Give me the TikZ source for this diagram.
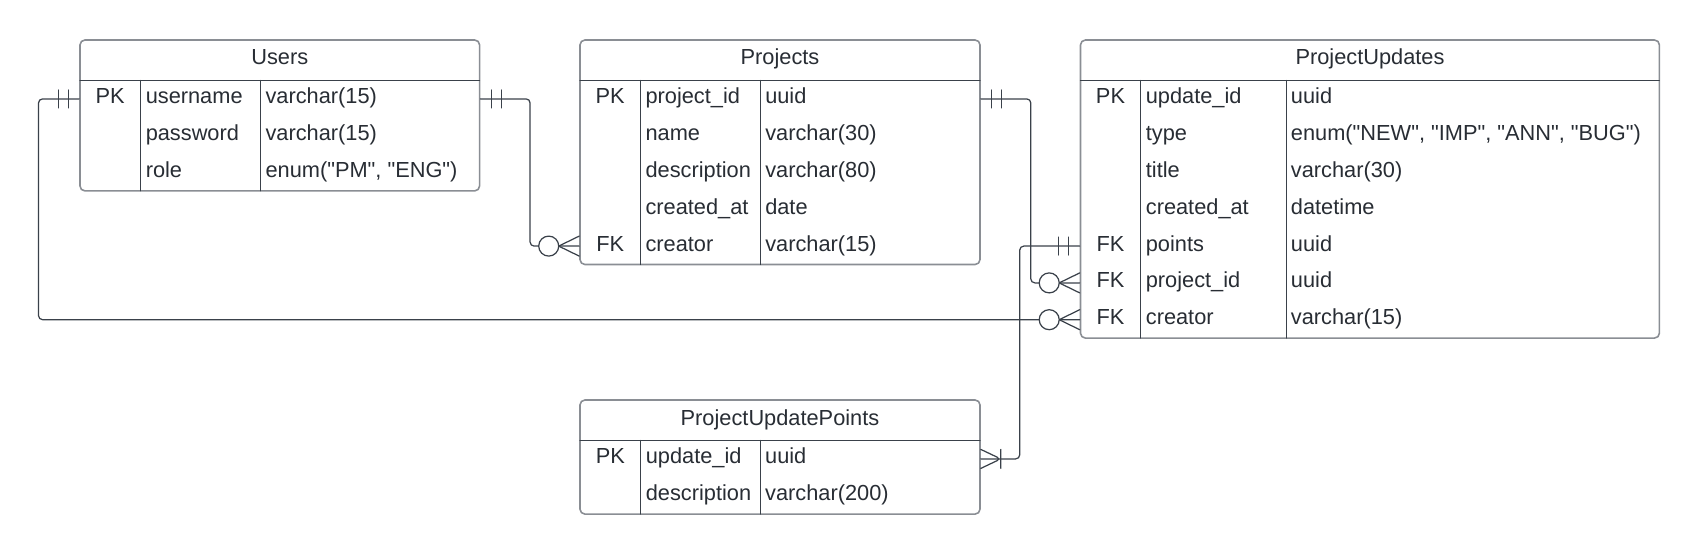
\documentclass[tikz,border=0pt]{standalone}
\usepackage{fontspec}
\setmainfont{Liberation Sans}
\usetikzlibrary{fit}
\definecolor{erink}{RGB}{40,45,52}
\definecolor{erline}{RGB}{58,65,74}
\definecolor{erframe}{RGB}{138,142,148}
\newcommand{\qq}[1]{\textquotedbl#1\textquotedbl}

\tikzset{
  tbl/.style={draw=erframe,line width=0.9pt,rounded corners=2.8pt,fill=white,inner sep=0pt},
  gridline/.style={draw=erline,line width=0.65pt},
  tbltitle/.style={anchor=base,inner sep=0pt,text=erink},
  keytxt/.style={anchor=base,inner sep=0pt,text=erink},
  fldtxt/.style={anchor=base west,inner sep=0pt,text=erink},
  rel/.style={draw=erline,line width=0.7pt,rounded corners=2.3pt},
}

\begin{document}
\begin{tikzpicture}[x=0.02cm,y=-0.02cm,font=\fontsize{12.4}{14}\selectfont,line cap=round,line join=round]
\useasboundingbox (0,0) rectangle (1701,554);
% Users
\node[tbl,fit={(80,40) (479.6,190.9)}] (users) {};
\draw[gridline] (80,80.5) -- (479.6,80.5) (140.4,80.5) -- (140.4,190.9) (260.7,80.5) -- (260.7,190.9);
\node[tbltitle] (users-title) at (279.8,65) {Users};
\foreach \k/\f/\t [count=\i] in {PK/username/varchar(15), {}/password/varchar(15), {}/role/{enum(\qq{PM}, \qq{ENG})}} {
  \coordinate (u\i) at (80,62.1+36.8*\i);
  \node[keytxt] (u\i-key) at (110.2,67.1+36.8*\i) {\k};
  \node[fldtxt] (u\i-name) at (145.4,67.1+36.8*\i) {\f};
  \node[fldtxt] (u\i-type) at (265.2,67.1+36.8*\i) {\t};
}
% Projects
\node[tbl,fit={(580,40) (980,264.5)}] (prj) {};
\draw[gridline] (580,80.5) -- (980,80.5) (640.4,80.5) -- (640.4,264.5) (760.4,80.5) -- (760.4,264.5);
\node[tbltitle] (prj-title) at (780,65) {Projects};
\foreach \k/\f/\t [count=\i] in {PK/project\_id/uuid, {}/name/varchar(30), {}/description/varchar(80), {}/created\_at/date, FK/creator/varchar(15)} {
  \coordinate (p\i) at (580,62.1+36.8*\i);
  \node[keytxt] (p\i-key) at (610.2,67.1+36.8*\i) {\k};
  \node[fldtxt] (p\i-name) at (645.2,67.1+36.8*\i) {\f};
  \node[fldtxt] (p\i-type) at (764.9,67.1+36.8*\i) {\t};
}
% ProjectUpdates
\node[tbl,fit={(1080.5,40) (1659.4,338.1)}] (pu) {};
\draw[gridline] (1080.5,80.5) -- (1659.4,80.5) (1140.5,80.5) -- (1140.5,338.1) (1286.1,80.5) -- (1286.1,338.1);
\node[tbltitle] (pu-title) at (1370,65) {ProjectUpdates};
\foreach \k/\f/\t [count=\i] in {PK/update\_id/uuid, {}/type/{enum(\qq{NEW}, \qq{IMP}, \qq{ANN}, \qq{BUG})}, {}/title/varchar(30), {}/created\_at/datetime, FK/points/uuid, FK/project\_id/uuid, FK/creator/varchar(15)} {
  \coordinate (pu\i) at (1080.5,62.1+36.8*\i);
  \node[keytxt] (pu\i-key) at (1110.5,67.1+36.8*\i) {\k};
  \node[fldtxt] (pu\i-name) at (1145.5,67.1+36.8*\i) {\f};
  \node[fldtxt] (pu\i-type) at (1290.6,67.1+36.8*\i) {\t};
}
% ProjectUpdatePoints
\node[tbl,fit={(580,400) (980,514.1)}] (pup) {};
\draw[gridline] (580,440.5) -- (980,440.5) (640.7,440.5) -- (640.7,514.1) (760.3,440.5) -- (760.3,514.1);
\node[tbltitle] (pup-title) at (780,425) {ProjectUpdatePoints};
\foreach \k/\f/\t [count=\i] in {PK/update\_id/uuid, {}/description/varchar(200)} {
  \coordinate (q\i) at (580,422.1+36.8*\i);
  \node[keytxt] (q\i-key) at (610.3,427.1+36.8*\i) {\k};
  \node[fldtxt] (q\i-name) at (645.5,427.1+36.8*\i) {\f};
  \node[fldtxt] (q\i-type) at (764.8,427.1+36.8*\i) {\t};
}
% relations
\coordinate (u-l) at (users.west |- u1);
\coordinate (u-r) at (users.east |- u1);
\coordinate (p-r) at (prj.east |- p1);
\coordinate (p-c) at (prj.west |- p5);
\coordinate (pu-pt) at (pu.west |- pu5);
\coordinate (pu-pi) at (pu.west |- pu6);
\coordinate (pu-c) at (pu.west |- pu7);
\coordinate (q-r) at (pup.east |- q1);
\draw[rel] (u-l) -- ++(-40.7,0) |- (pu-c);
\draw[rel] (u-r) -- ++(49.7,0) |- (p-c);
\draw[rel] (p-r) -- ++(50,0) |- (pu-pi);
\draw[rel] (pu-pt) -- ++(-60,0) |- (q-r);
% exactly one
\foreach \e/\s in {u-l/-1, u-r/1, p-r/1, pu-pt/-1} {
  \draw[rel] (\e) ++(11*\s,-9) -- ++(0,18) (\e) ++(21*\s,-9) -- ++(0,18);
}
% zero or many
\foreach \e in {p-c, pu-pi, pu-c} {
  \draw[rel] (\e) ++(-20.5,0) -- ++(20.5,-10) (\e) ++(-20.5,0) -- ++(20.5,10);
  \draw[rel,fill=white] (\e) ++(-30.5,0) circle (0.2cm);
}
% one or many
\draw[rel] (q-r) ++(0,-9.5) -- ++(20,9.5) -- ++(-20,9.5) (q-r) ++(20,-9.5) -- ++(0,19);
\end{tikzpicture}
\end{document}
